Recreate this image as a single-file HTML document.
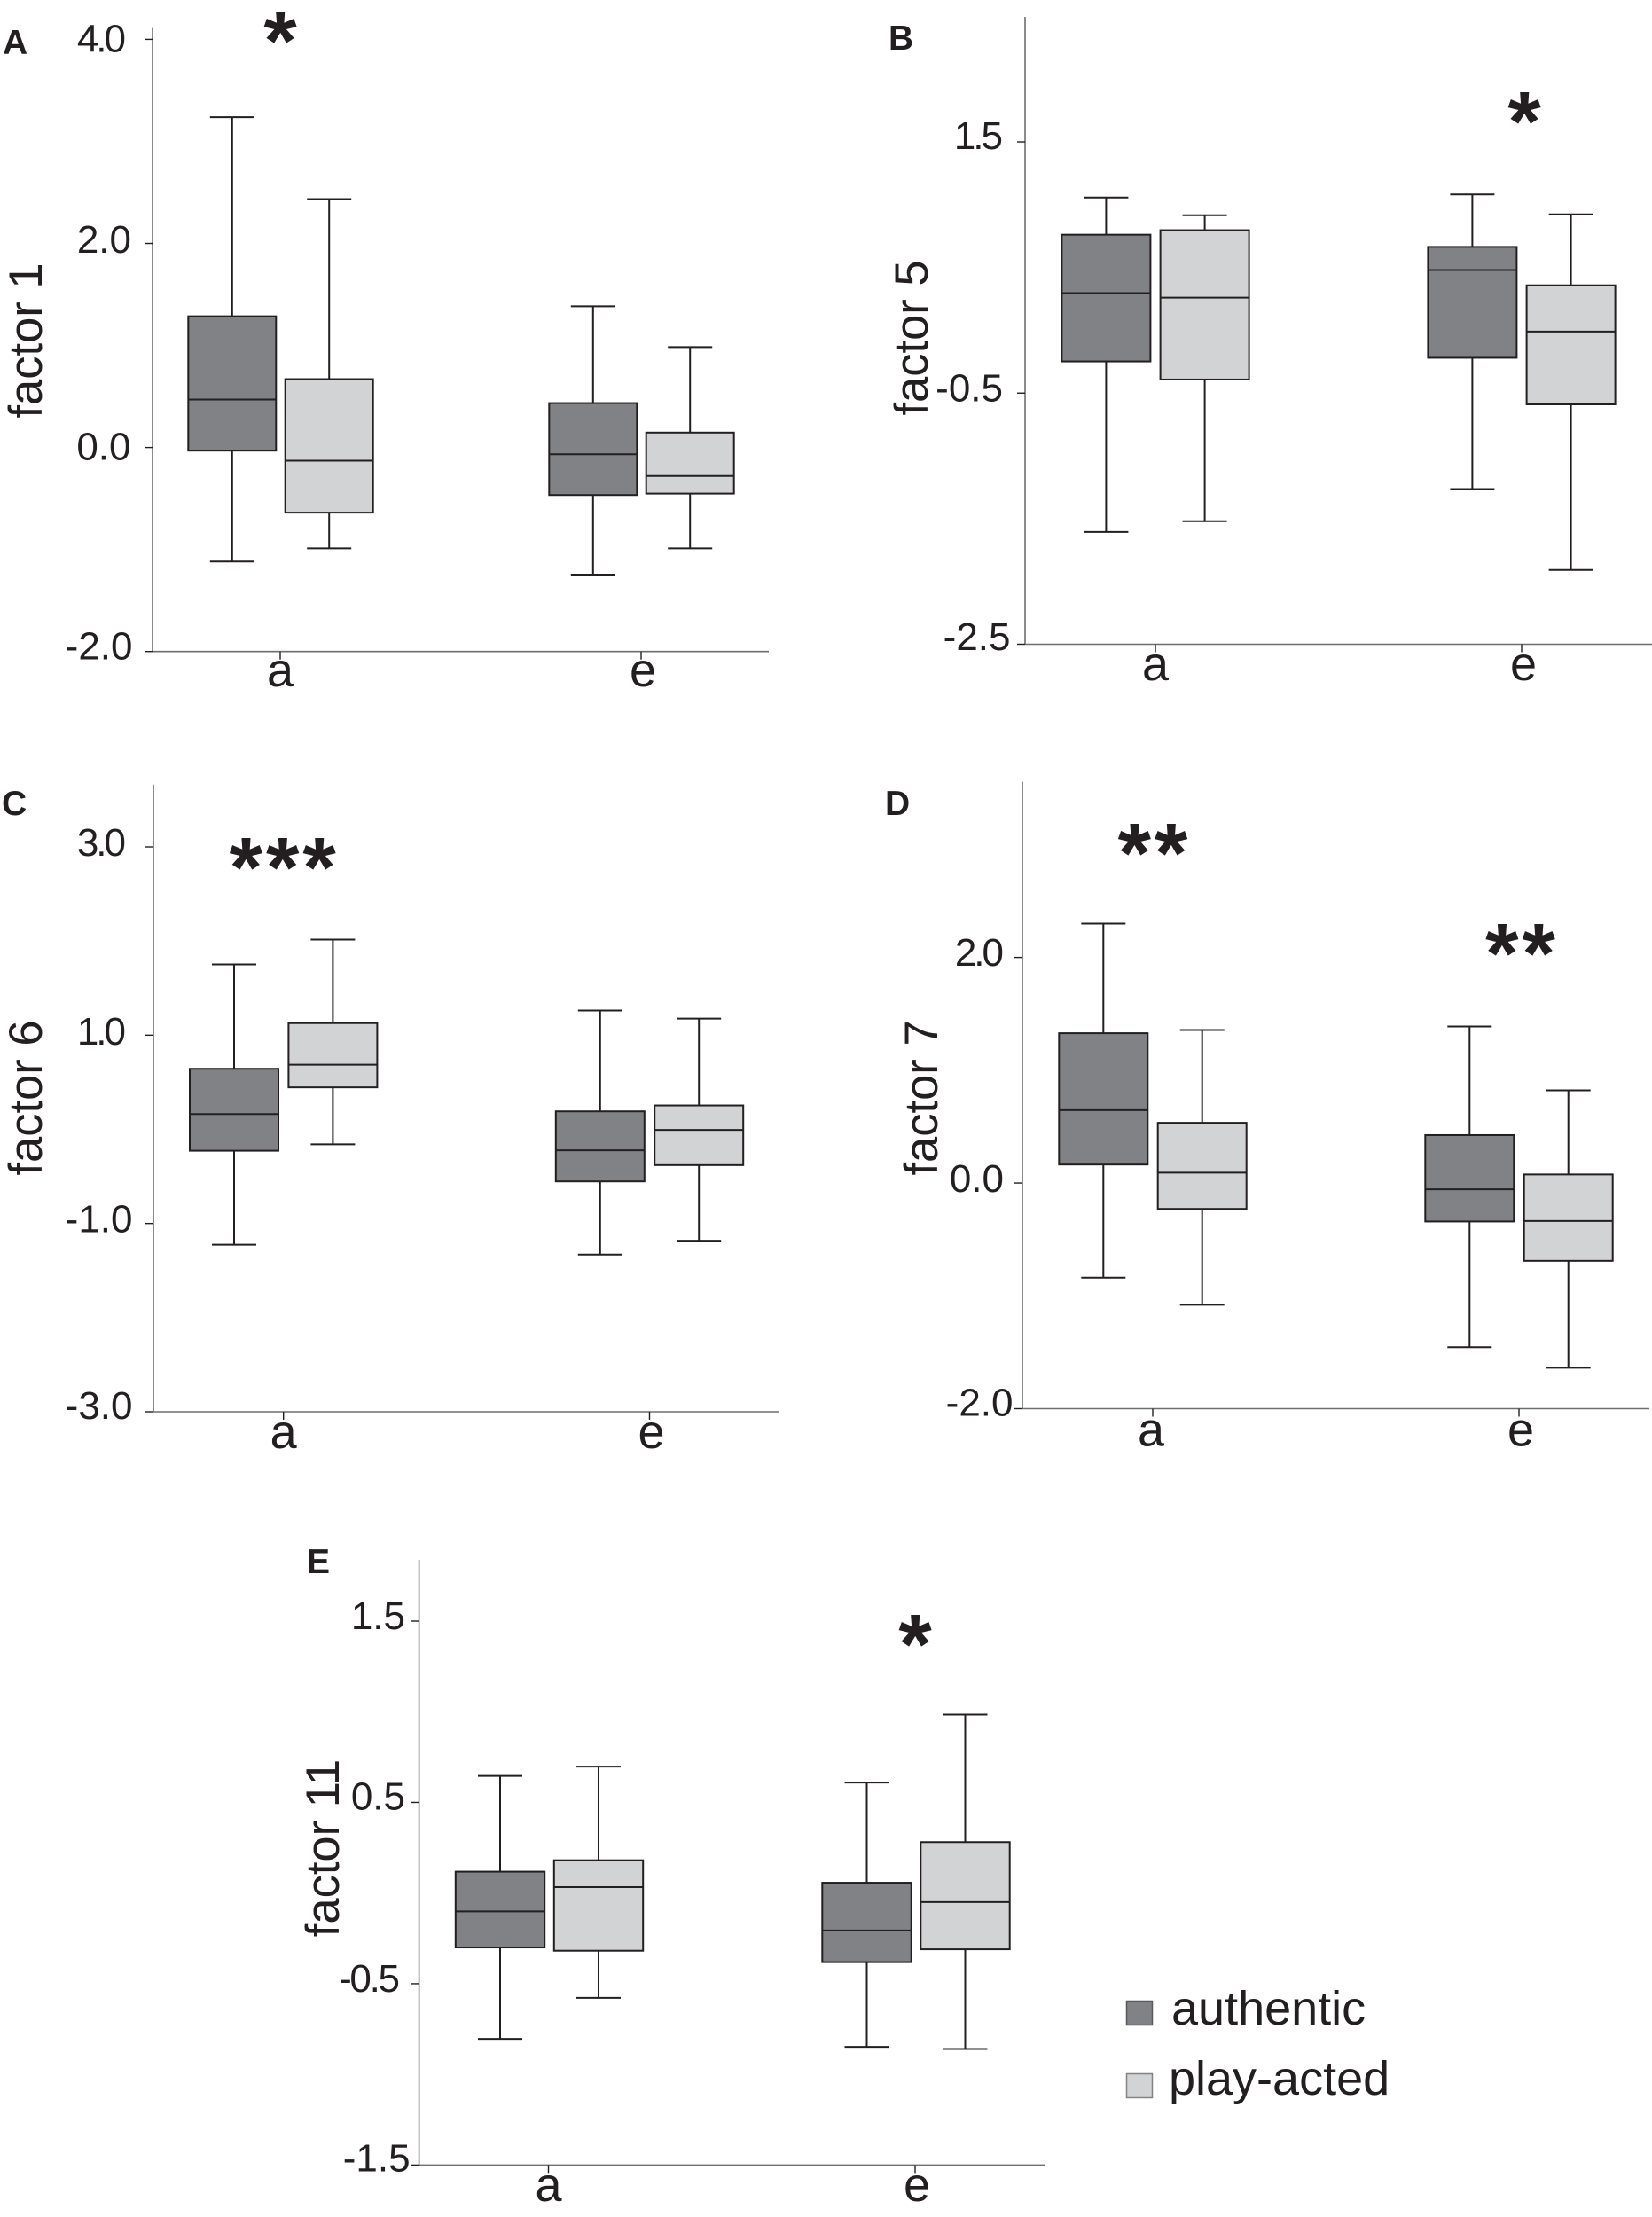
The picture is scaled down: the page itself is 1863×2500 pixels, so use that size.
<!DOCTYPE html>
<html lang="en">
<head>
<meta charset="utf-8">
<title>Factor box plots: authentic vs play-acted</title>
<style>
  html, body { margin: 0; padding: 0; background: #ffffff; }
  svg { display: block; }
  text { font-family: "Liberation Sans", Arial, sans-serif; fill: #231f20; }
</style>
</head>
<body>
<svg id="figure" xmlns="http://www.w3.org/2000/svg" width="1863" height="2500" viewBox="0 0 1863 2500">
  <rect x="0" y="0" width="1863" height="2500" fill="#ffffff"/>
  <g>
    <rect x="1270.5" y="2256.5" width="29" height="27" fill="#808285" stroke="#58595b" stroke-width="1.5"/>
    <text x="1321" y="2283" font-size="54">authentic</text>
    <rect x="1270.5" y="2338.5" width="29" height="27" fill="#d1d3d4" stroke="#808285" stroke-width="1.5"/>
    <text x="1318" y="2362" font-size="54">play-acted</text>
  </g>
</svg>
<script>
// Categories and series
const categories = ['a', 'e'];
const seriesNames = ['authentic', 'play-acted'];

// Box values: [lower whisker, Q1, median, Q3, upper whisker]
const factor1AAuthentic = [-1.118, -0.031, 0.47, 1.286, 3.237];
const factor1APlayActed = [-0.989, -0.639, -0.129, 0.67, 2.435];
const factor1EAuthentic = [-1.246, -0.466, -0.067, 0.435, 1.384];
const factor1EPlayActed = [-0.989, -0.452, -0.279, 0.146, 0.984];

const factor5AAuthentic = [-1.606, -0.248, 0.296, 0.761, 1.057];
const factor5APlayActed = [-1.52, -0.392, 0.26, 0.797, 0.916];
const factor5EAuthentic = [-1.264, -0.219, 0.48, 0.664, 1.082];
const factor5EPlayActed = [-1.909, -0.59, -0.01, 0.358, 0.923];

const factor6AAuthentic = [-1.226, -0.227, 0.162, 0.643, 1.752];
const factor6APlayActed = [-0.159, 0.446, 0.686, 1.128, 2.016];
const factor6EAuthentic = [-1.331, -0.553, -0.222, 0.191, 1.262];
const factor6EPlayActed = [-1.183, -0.38, -0.006, 0.254, 1.176];

const factor7AAuthentic = [-0.839, 0.164, 0.646, 1.328, 2.299];
const factor7APlayActed = [-1.079, -0.229, 0.092, 0.534, 1.356];
const factor7EAuthentic = [-1.456, -0.341, -0.056, 0.425, 1.388];
const factor7EPlayActed = [-1.637, -0.69, -0.337, 0.076, 0.822];

const factor11AAuthentic = [-0.804, -0.3, -0.101, 0.118, 0.646];
const factor11APlayActed = [-0.578, -0.318, 0.033, 0.181, 0.697];
const factor11EAuthentic = [-0.848, -0.381, -0.206, 0.057, 0.609];
const factor11EPlayActed = [-0.86, -0.31, -0.05, 0.281, 0.984];

// Tick values and printed labels
const factor1Ticks = [4, 2, 0, -2];
const factor1TickLabels = ['4.0', '2.0', '0.0', '-2.0'];
const factor5Ticks = [1.5, -0.5, -2.5];
const factor5TickLabels = ['1.5', '-0.5', '-2.5'];
const factor6Ticks = [3, 1, -1, -3];
const factor6TickLabels = ['3.0', '1.0', '-1.0', '-3.0'];
const factor7Ticks = [2, 0, -2];
const factor7TickLabels = ['2.0', '0.0', '-2.0'];
const factor11Ticks = [1.5, 0.5, -0.5, -1.5];
const factor11TickLabels = ['1.5', '0.5', '-0.5', '-1.5'];

// Significance markers per category
const factor1Significance = ['*', ''];
const factor5Significance = ['', '*'];
const factor6Significance = ['***', ''];
const factor7Significance = ['**', '**'];
const factor11Significance = ['', '*'];

const panels = [
  {
    letter: 'A', title: 'factor 1',
    boxes: [[factor1AAuthentic, factor1APlayActed], [factor1EAuthentic, factor1EPlayActed]],
    ticks: factor1Ticks, tickLabels: factor1TickLabels, significance: factor1Significance,
    layout: {
      axisX: 172, axisTop: 31.6, axisRight: 867, axisBottom: 734.7, firstTickY: 44.4, lastTickY: 734.7,
      catX: [316, 723], dodge: 54.7, center: 0.5, boxW: 99, capW: 50,
      labelRight: [142, 148, 147.5, 149.5], labelDy: [14, 10.5, 14, 9], labelSpacing: [-3, 0, 0, 0],
      catLabelDx: [0, 2], catBaseline: 774,
      titleX: 47, titleY: 384, letterX: 3, letterY: 61,
      starDx: [0, 0], starY: [31, 0]
    }
  },
  {
    letter: 'B', title: 'factor 5',
    boxes: [[factor5AAuthentic, factor5APlayActed], [factor5EAuthentic, factor5EPlayActed]],
    ticks: factor5Ticks, tickLabels: factor5TickLabels, significance: factor5Significance,
    layout: {
      axisX: 1156, axisTop: 19, axisRight: 1863, axisBottom: 726.5, firstTickY: 160, lastTickY: 726.5,
      catX: [1303, 1716], dodge: 55.6, center: 0, boxW: 100, capW: 50,
      labelRight: [1131, 1131, 1139.5], labelDy: [8, 9, 6.5], labelSpacing: [-3, 0, 0],
      catLabelDx: [0, 2], catBaseline: 767,
      titleX: 1046, titleY: 381, letterX: 1002, letterY: 56,
      starDx: [0, 3], starY: [0, 122]
    }
  },
  {
    letter: 'C', title: 'factor 6',
    boxes: [[factor6AAuthentic, factor6APlayActed], [factor6EAuthentic, factor6EPlayActed]],
    ticks: factor6Ticks, tickLabels: factor6TickLabels, significance: factor6Significance,
    layout: {
      axisX: 173, axisTop: 884.7, axisRight: 879, axisBottom: 1592, firstTickY: 955, lastTickY: 1592,
      catX: [319.7, 732.5], dodge: 55.7, center: 0, boxW: 100, capW: 50,
      labelRight: [142, 142, 149.5, 149.5], labelDy: [10, 10.5, 10, 8], labelSpacing: [-3, -3, 0, 0],
      catLabelDx: [0, 2], catBaseline: 1633,
      titleX: 47, titleY: 1238, letterX: 2, letterY: 919,
      starDx: [-1, 0], starY: [963, 0]
    }
  },
  {
    letter: 'D', title: 'factor 7',
    boxes: [[factor7AAuthentic, factor7APlayActed], [factor7EAuthentic, factor7EPlayActed]],
    ticks: factor7Ticks, tickLabels: factor7TickLabels, significance: factor7Significance,
    layout: {
      axisX: 1153, axisTop: 881.6, axisRight: 1860, axisBottom: 1588.5, firstTickY: 1079.6, lastTickY: 1588.5,
      catX: [1300, 1713], dodge: 55.7, center: 0, boxW: 100, capW: 50,
      labelRight: [1132, 1132, 1142.5], labelDy: [9.5, 10, 8], labelSpacing: [-3, 0, 0],
      catLabelDx: [-2, 2], catBaseline: 1630.5,
      titleX: 1057, titleY: 1238, letterX: 998, letterY: 919,
      starDx: [0, 1.5], starY: [947, 1060]
    }
  },
  {
    letter: 'E', title: 'factor 11',
    boxes: [[factor11AAuthentic, factor11APlayActed], [factor11EAuthentic, factor11EPlayActed]],
    ticks: factor11Ticks, tickLabels: factor11TickLabels, significance: factor11Significance,
    layout: {
      axisX: 472.6, axisTop: 1759, axisRight: 1178, axisBottom: 2441.4, firstTickY: 1828, lastTickY: 2441.4,
      catX: [618.5, 1032], dodge: 55.5, center: 1, boxW: 100.4, capW: 50,
      labelRight: [457, 457, 451, 462.6], labelDy: [9, 8, 9, 7], labelSpacing: [0, 0, -2.3, 0],
      catLabelDx: [0, 2], catBaseline: 2482,
      titleX: 382, titleY: 2084, letterX: 346, letterY: 1774,
      starDx: [0, 0], starY: [0, 1839]
    }
  }
];

const INK = '#231f20';
const AXIS = '#6d6e71';
const FILLS = ['#808285', '#d1d3d4'];
const SVG_NS = 'http://www.w3.org/2000/svg';
const figure = document.getElementById('figure');

function make(tag, parent, attrs) {
  const node = document.createElementNS(SVG_NS, tag);
  for (const key in attrs) node.setAttribute(key, attrs[key]);
  parent.appendChild(node);
  return node;
}

function yScale(panel) {
  const first = panel.ticks[0];
  const last = panel.ticks[panel.ticks.length - 1];
  const L = panel.layout;
  return function (v) {
    return L.firstTickY + (v - first) / (last - first) * (L.lastTickY - L.firstTickY);
  };
}

function xScale(panel) {
  const L = panel.layout;
  return function (catIndex, seriesIndex) {
    return L.catX[catIndex] + L.center + (seriesIndex === 0 ? -L.dodge : L.dodge);
  };
}

function drawBox(group, values, cx, y, L, fill, name) {
  const low = values[0], q1 = values[1], med = values[2], q3 = values[3], high = values[4];
  const box = make('g', group, {});
  
  

  const whisker = make('line', box, { x1: cx, x2: cx, y1: y(high), y2: y(low), stroke: INK, 'stroke-width': 2 });
  
  

  const capHigh = make('line', box, { x1: cx - L.capW / 2, x2: cx + L.capW / 2, y1: y(high), y2: y(high), stroke: INK, 'stroke-width': 2 });
  
  

  const capLow = make('line', box, { x1: cx - L.capW / 2, x2: cx + L.capW / 2, y1: y(low), y2: y(low), stroke: INK, 'stroke-width': 2 });
  
  

  const rect = make('rect', box, { x: cx - L.boxW / 2, y: y(q3), width: L.boxW, height: y(q1) - y(q3), fill: fill, stroke: INK, 'stroke-width': 2 });
  
  

  const median = make('line', box, { x1: cx - L.boxW / 2, x2: cx + L.boxW / 2, y1: y(med), y2: y(med), stroke: INK, 'stroke-width': 2 });
  
  
}

function drawPanel(panel) {
  const L = panel.layout;
  const y = yScale(panel);
  const x = xScale(panel);
  const key = panel.title.replace(' ', '-');

  const group = make('g', figure, {});
  
  

  const letter = make('text', group, { x: L.letterX, y: L.letterY, 'font-size': 39, 'font-weight': 'bold' });
  letter.textContent = panel.letter;
  
  

  const title = make('text', group, { x: 0, y: 0, 'font-size': 52.5, 'text-anchor': 'middle', transform: 'translate(' + L.titleX + ' ' + L.titleY + ') rotate(-90)' });
  title.textContent = panel.title;
  
  

  const yAxis = make('line', group, { x1: L.axisX, x2: L.axisX, y1: L.axisTop, y2: L.axisBottom, stroke: AXIS, 'stroke-width': 1.6 });
  
  

  const xAxis = make('line', group, { x1: L.axisX, x2: L.axisRight, y1: L.axisBottom, y2: L.axisBottom, stroke: AXIS, 'stroke-width': 1.6 });
  
  

  panel.ticks.forEach(function (value, i) {
    const tick = make('line', group, { x1: L.axisX - 9, x2: L.axisX, y1: y(value), y2: y(value), stroke: INK, 'stroke-width': 1.4 });
    
    

    const label = make('text', group, { x: L.labelRight[i] + L.labelSpacing[i], y: y(value) + L.labelDy[i], 'font-size': 44, 'text-anchor': 'end', 'letter-spacing': L.labelSpacing[i] });
    label.textContent = panel.tickLabels[i];
    
    
  });

  categories.forEach(function (category, c) {
    const tick = make('line', group, { x1: L.catX[c], x2: L.catX[c], y1: L.axisBottom, y2: L.axisBottom + 9, stroke: INK, 'stroke-width': 1.4 });
    
    

    const label = make('text', group, { x: L.catX[c] + L.catLabelDx[c], y: L.catBaseline, 'font-size': 54, 'text-anchor': 'middle' });
    label.textContent = category;
    
    

    seriesNames.forEach(function (series, s) {
      drawBox(group, panel.boxes[c][s], x(c, s), y, L, FILLS[s], key + '-box-' + category + '-' + series);
    });

    if (panel.significance[c]) {
      const star = make('text', group, { x: L.catX[c] + L.starDx[c] + 2, y: L.starY[c] + 48, 'font-size': 96, 'font-weight': 'bold', 'text-anchor': 'middle', 'letter-spacing': 4 });
      star.textContent = panel.significance[c];
      
      
    }
  });
}

panels.forEach(drawPanel);
</script>
</body>
</html>
